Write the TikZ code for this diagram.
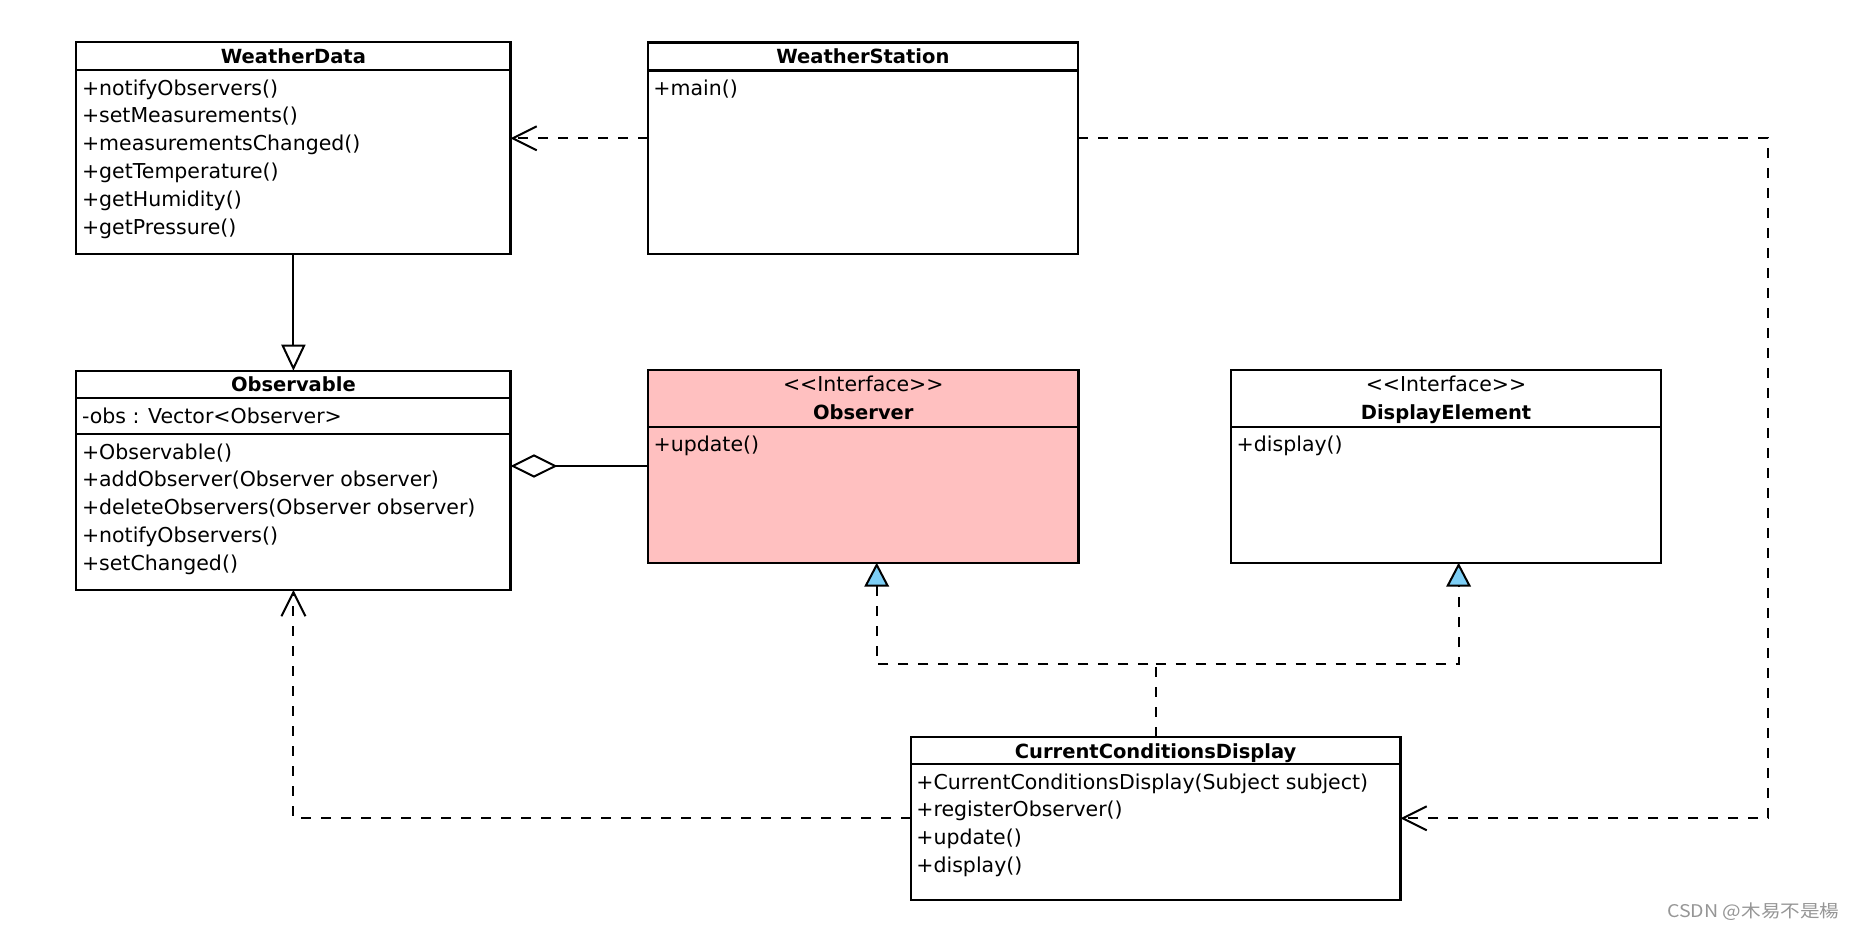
\documentclass[tikz,border=0pt]{standalone}
\usepackage{fontspec}
\usepackage{graphicx}
\setmainfont{DejaVu Sans}
\newfontfamily\cjkfont{Noto Sans CJK SC}
\usetikzlibrary{arrows.meta}
\definecolor{pinkfill}{RGB}{255,192,192}
\definecolor{bluefill}{RGB}{125,206,245}
\definecolor{wmgray}{RGB}{150,150,150}
\newcommand\memfont{\fontsize{20.5pt}{28pt}\selectfont}
\newcommand\ttlfont{\fontsize{19.5pt}{28pt}\selectfont\bfseries}
\newcommand\stereotxt{{<}{<}Interface{>}{>}}
\tikzset{
  cls/.style={draw, line width=2.2pt, fill=white, anchor=north west, inner sep=0pt, outer sep=0pt},
  sepline/.style={line width=2.2pt},
  ttl/.style={anchor=base, inner sep=0pt, font=\ttlfont},
  stereo/.style={anchor=base, inner sep=0pt, font=\memfont},
  mem/.style={anchor=base west, inner sep=0pt, font=\memfont},
  conn/.style={line width=2pt},
  dep/.style={conn, dash pattern=on 10pt off 10pt, -{Straight Barb[length=24pt,width=24pt]}},
  gen/.style={conn, -{Triangle[open, length=26pt, width=24pt]}},
  agg/.style={conn, -{Diamond[open, length=47pt, width=23.4pt]}},
  real/.style={conn, dash pattern=on 10pt off 10pt},
  realtip/.style={real, -{Triangle[length=24pt, width=24.6pt, fill=bluefill]}}
}
\begin{document}
\begin{tikzpicture}[x=1pt,y=-1pt]
\useasboundingbox[fill=white] (0,0) rectangle (1854,932);

% ---------- WeatherData ----------
\node[cls, minimum width=434.2pt, minimum height=212pt] (wd) at (76.3,42.3) {};
\draw[sepline] (76.3,70.3) -- (510.5,70.3);
\node[ttl] (wdT) at (293.4,63.3) {WeatherData};
\node[mem] (wd1) at (81.8,95) {+notifyObservers()};
\node[mem] (wd2) at (81.8,122.8) {+setMeasurements()};
\node[mem] (wd3) at (81.8,150.6) {+measurementsChanged()};
\node[mem] (wd4) at (81.8,178.4) {+getTemperature()};
\node[mem] (wd5) at (81.8,206.2) {+getHumidity()};
\node[mem] (wd6) at (81.8,234) {+getPressure()};

% ---------- WeatherStation ----------
\node[cls, minimum width=430.3pt, minimum height=211.5pt] (ws) at (647.7,42.5) {};
\draw[sepline] (647.7,70.5) -- (1078,70.5);
\node[ttl] (wsT) at (862.9,63.5) {WeatherStation};
\node[mem] (ws1) at (653.2,95.2) {+main()};

% ---------- Observable ----------
\node[cls, minimum width=434.2pt, minimum height=219.3pt] (obl) at (76.3,370.7) {};
\draw[sepline] (76.3,398) -- (510.5,398);
\draw[sepline] (76.3,434.3) -- (510.5,434.3);
\node[ttl] (oblT) at (293.4,391.7) {Observable};
\node[mem] (obla) at (81.8,423) {-obs : Vector{<}Observer{>}};
\node[mem] (obl1) at (81.8,459) {+Observable()};
\node[mem] (obl2) at (81.8,486.8) {+addObserver(Observer observer)};
\node[mem] (obl3) at (81.8,514.6) {+deleteObservers(Observer observer)};
\node[mem] (obl4) at (81.8,542.4) {+notifyObservers()};
\node[mem] (obl5) at (81.8,570.2) {+setChanged()};

% ---------- Observer ----------
\node[cls, fill=pinkfill, minimum width=430.5pt, minimum height=192.7pt] (obs) at (648,370) {};
\draw[sepline] (648,426.7) -- (1078.5,426.7);
\node[stereo] (obsS) at (863.3,391.7) {\stereotxt};
\node[ttl] (obsT) at (863.3,419.3) {Observer};
\node[mem] (obs1) at (653.5,451.4) {+update()};

% ---------- DisplayElement ----------
\node[cls, minimum width=430pt, minimum height=192.7pt] (de) at (1231,370) {};
\draw[sepline] (1231,426.7) -- (1661,426.7);
\node[stereo] (deS) at (1446,391.7) {\stereotxt};
\node[ttl] (deT) at (1446,419.3) {DisplayElement};
\node[mem] (de1) at (1236.5,451.4) {+display()};

% ---------- CurrentConditionsDisplay ----------
\node[cls, minimum width=489.8pt, minimum height=163.3pt] (ccd) at (910.7,736.7) {};
\draw[sepline] (910.7,764.3) -- (1400.5,764.3);
\node[ttl] (ccdT) at (1155.6,758) {CurrentConditionsDisplay};
\node[mem] (ccd1) at (916.2,789) {+CurrentConditionsDisplay(Subject subject)};
\node[mem] (ccd2) at (916.2,816.8) {+registerObserver()};
\node[mem] (ccd3) at (916.2,844.6) {+update()};
\node[mem] (ccd4) at (916.2,872.4) {+display()};

% ---------- routing helpers ----------
\coordinate (rowA) at (0,138.3);
\coordinate (rowB) at (0,466);
\coordinate (rowC) at (0,664);
\coordinate (rowD) at (0,818.3);
\coordinate (colR) at (1768,0);
\coordinate (colObs) at (876.7,0);
\coordinate (colDE) at (1458.6,0);

% ---------- connectors ----------
\draw[gen] (wd.south) -- (obl.north);
\draw[dep] (ws.west |- rowA) -- (wd.east |- rowA);
\draw[dep] (ws.east |- rowA) -- (colR |- rowA) -- (colR |- rowD) -- (ccd.east |- rowD);
\draw[agg] (obs.west |- rowB) -- (obl.east |- rowB);
\draw[realtip] (ccd.north) -- (ccd.north |- rowC) -- (colObs |- rowC) -- (colObs |- obs.south);
\draw[realtip] (ccd.north |- rowC) -- (colDE |- rowC) -- (colDE |- de.south);
\draw[dep] (ccd.west |- rowD) -- (obl.south |- rowD) -- (obl.south);

% ---------- watermark ----------
\node[anchor=base east, inner sep=0pt, text=wmgray] (wm) at (1839.6,917.7)
  {\scalebox{1.12}[1]{\cjkfont\fontsize{17.5pt}{17.5pt}\selectfont CSDN @木易不是楊}};
\end{tikzpicture}
\end{document}
